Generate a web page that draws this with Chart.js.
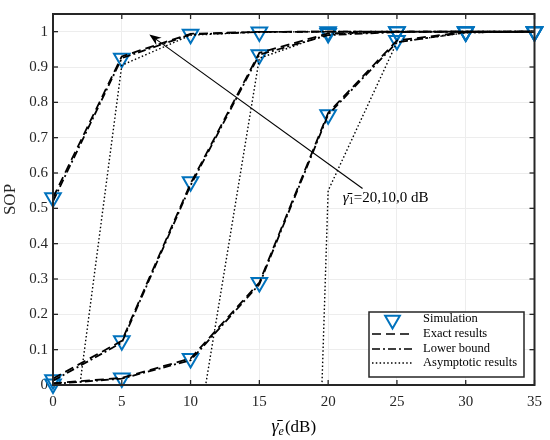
<!DOCTYPE html>
<html>
<head>
<meta charset="utf-8">
<script src="https://cdn.jsdelivr.net/npm/chart.js@4.4.1/dist/chart.umd.min.js"></script>
<style>
  html, body { margin: 0; padding: 0; background: #fff; }
  #wrap { width: 550px; height: 440px; }
</style>
</head>
<body>
<div id="wrap"><canvas id="sopChart" width="550" height="440"></canvas></div>
<script>
// x axis: average eavesdropper SNR (dB)
const snrDb = [0, 5, 10, 15, 20, 25, 30, 35];
const xTicks = [0, 5, 10, 15, 20, 25, 30, 35];
const yTicks = [0, 0.1, 0.2, 0.3, 0.4, 0.5, 0.6, 0.7, 0.8, 0.9, 1];

// gamma1 = 20 dB
const simG20   = [0.53, 0.925, 0.993, 0.999, 1, 1, 1, 1];
const exactG20 = [0.53, 0.93, 0.994, 0.9995, 1, 1, 1, 1];
const lowerG20 = [0.52, 0.925, 0.992, 0.999, 1, 1, 1, 1];
const asymG20  = [-0.58, 0.905, 0.99, 0.999, 1, 1, 1, 1];
// gamma1 = 10 dB
const simG10   = [0.015, 0.125, 0.575, 0.935, 0.995, 1, 1, 1];
const exactG10 = [0.018, 0.125, 0.57, 0.94, 0.995, 1, 1, 1];
const lowerG10 = [0.012, 0.12, 0.565, 0.935, 0.99, 0.999, 1, 1];
const asymG10  = [null, null, -0.26, 0.925, 0.993, 0.999, 1, 1];
// gamma1 = 0 dB
const simG0    = [0.003, 0.02, 0.075, 0.29, 0.765, 0.975, 0.999, 1];
const exactG0  = [0.005, 0.02, 0.075, 0.29, 0.77, 0.975, 0.999, 1];
const lowerG0  = [0.003, 0.018, 0.07, 0.285, 0.765, 0.97, 0.998, 1];
const asymG0   = [null, null, null, -5.56, 0.55, 0.97, 0.997, 1];

const legendLabels = ['Simulation', 'Exact results', 'Lower bound', 'Asymptotic results'];

const SERIF = "'Liberation Serif', 'DejaVu Serif', serif";
const BLUE = '#0072BD';
const INK = '#262626';
const DASH = [9, 5];
const DASHDOT = [8, 3, 2, 3];
const DOT = [1.5, 2.3];

function pts(vals) {
    return snrDb.map((x, i) => ({ x: x, y: vals[i] }));
}

function simSet(vals) {
    return {
        data: pts(vals), showLine: false, order: 1, clip: false,
        pointStyle: 'triangle', rotation: 180, pointRadius: 9, pointHoverRadius: 9,
        pointBorderColor: BLUE, pointBackgroundColor: 'rgba(0,0,0,0)', pointBorderWidth: 2
    };
}

function lineSet(vals, dash, width) {
    return {
        data: pts(vals), borderColor: '#000', borderWidth: width, borderDash: dash,
        pointRadius: 0, tension: 0, fill: false, spanGaps: false, order: 0
    };
}

const datasets = [
    lineSet(exactG20, DASH, 1.8), lineSet(exactG10, DASH, 1.8), lineSet(exactG0, DASH, 1.8),
    lineSet(lowerG20, DASHDOT, 1.8), lineSet(lowerG10, DASHDOT, 1.8), lineSet(lowerG0, DASHDOT, 1.8),
    lineSet(asymG20, DOT, 1.4), lineSet(asymG10, DOT, 1.4), lineSet(asymG0, DOT, 1.4),
    simSet(simG20), simSet(simG10), simSet(simG0)
];

// ticks inside the box, frame, arrow note, legend, x title
const decorPlugin = {
    id: 'decor',
    afterDatasetsDraw(chart) {
        const ctx = chart.ctx;
        const a = chart.chartArea;
        const xs = chart.scales.x, ys = chart.scales.y;

        function seg(x1, y1, x2, y2) {
            ctx.beginPath(); ctx.moveTo(x1, y1); ctx.lineTo(x2, y2); ctx.stroke();
        }

        ctx.save();
        ctx.strokeStyle = INK;
        ctx.lineWidth = 1.3;
        xTicks.forEach(v => {
            const px = xs.getPixelForValue(v);
            seg(px, a.bottom, px, a.bottom - 5);
            seg(px, a.top, px, a.top + 5);
        });
        yTicks.forEach(v => {
            const py = ys.getPixelForValue(v);
            seg(a.left, py, a.left + 5, py);
            seg(a.right, py, a.right - 5, py);
        });
        ctx.lineWidth = 2;
        ctx.strokeRect(a.left, a.top, a.right - a.left, a.bottom - a.top);

        // arrow pointing across the curves
        const tx = xs.getPixelForValue(22.5), ty = ys.getPixelForValue(0.556);
        const hx = xs.getPixelForValue(7.0), hy = ys.getPixelForValue(0.992);
        const ang = Math.atan2(hy - ty, hx - tx);
        ctx.strokeStyle = '#000';
        ctx.lineWidth = 1.1;
        seg(tx, ty, hx - 8 * Math.cos(ang), hy - 8 * Math.sin(ang));
        ctx.fillStyle = '#000';
        ctx.beginPath();
        ctx.moveTo(hx, hy);
        ctx.lineTo(hx - 12 * Math.cos(ang) + 4.5 * Math.sin(ang), hy - 12 * Math.sin(ang) - 4.5 * Math.cos(ang));
        ctx.lineTo(hx - 8 * Math.cos(ang), hy - 8 * Math.sin(ang));
        ctx.lineTo(hx - 12 * Math.cos(ang) - 4.5 * Math.sin(ang), hy - 12 * Math.sin(ang) + 4.5 * Math.cos(ang));
        ctx.closePath();
        ctx.fill();

        // note text
        let nx = xs.getPixelForValue(21.07);
        const ny = ys.getPixelForValue(0.517);
        ctx.textBaseline = 'alphabetic';
        ctx.textAlign = 'left';
        ctx.font = 'italic 15px ' + SERIF;
        ctx.fillText('\u03B3\u0304', nx, ny);
        nx += ctx.measureText('\u03B3').width;
        ctx.font = '10px ' + SERIF;
        ctx.fillText('1', nx, ny + 2);
        nx += ctx.measureText('1').width;
        ctx.font = '15px ' + SERIF;
        ctx.fillText('=20,10,0 dB', nx, ny);

        // legend box
        const lx = 369, ly = 312, lw = 155, lh = 65;
        ctx.fillStyle = '#fff';
        ctx.fillRect(lx, ly, lw, lh);
        ctx.strokeStyle = INK;
        ctx.lineWidth = 1.5;
        ctx.strokeRect(lx, ly, lw, lh);
        const rows = [319, 334, 349, 363];
        const dashes = [null, DASH, DASHDOT, DOT];
        ctx.font = '12.5px ' + SERIF;
        ctx.textBaseline = 'middle';
        rows.forEach((ry, i) => {
            if (i === 0) {
                ctx.strokeStyle = BLUE;
                ctx.lineWidth = 2;
                ctx.beginPath();
                const r = 8.5;
                for (let k = 0; k < 3; k++) {
                    const t = Math.PI + k * 2 * Math.PI / 3;
                    const px = 392.5 + Math.sin(t) * r, py = ry + 1 - Math.cos(t) * r;
                    if (k === 0) ctx.moveTo(px, py); else ctx.lineTo(px, py);
                }
                ctx.closePath();
                ctx.stroke();
            } else {
                ctx.strokeStyle = '#000';
                ctx.lineWidth = i === 3 ? 1.3 : 1.7;
                ctx.setLineDash(dashes[i]);
                seg(372, ry, 413, ry);
                ctx.setLineDash([]);
            }
            ctx.fillStyle = '#000';
            ctx.fillText(legendLabels[i], 423, ry);
        });

        // x axis title
        const cx = (a.left + a.right) / 2, by = 432;
        ctx.textBaseline = 'alphabetic';
        ctx.font = 'italic 18px ' + SERIF;
        const wG = ctx.measureText('\u03B3').width;
        ctx.font = 'italic 12px ' + SERIF;
        const wE = ctx.measureText('e').width;
        ctx.font = '17px ' + SERIF;
        const wD = ctx.measureText('(dB)').width;
        let sx = cx - (wG + wE + wD + 1) / 2;
        ctx.font = 'italic 18px ' + SERIF;
        ctx.fillText('\u03B3\u0304', sx, by);
        sx += wG;
        ctx.font = 'italic 12px ' + SERIF;
        ctx.fillText('e', sx, by + 3);
        sx += wE + 1;
        ctx.font = '17px ' + SERIF;
        ctx.fillText('(dB)', sx, by);
        ctx.restore();
    }
};

new Chart(document.getElementById('sopChart'), {
    type: 'line',
    data: { datasets: datasets },
    options: {
        responsive: false,
        animation: false,
        devicePixelRatio: 1,
        layout: { padding: { top: 6, right: 13, left: 0, bottom: 0 } },
        plugins: { legend: { display: false }, tooltip: { enabled: false } },
        scales: {
            x: {
                type: 'linear', min: 0, max: 35,
                afterBuildTicks: s => { s.ticks = xTicks.map(v => ({ value: v })); },
                afterFit: s => { s.height = 55; },
                grid: { color: '#ededed', lineWidth: 1, drawTicks: false },
                border: { display: false },
                ticks: { color: '#262626', padding: 8, maxRotation: 0,
                         font: { family: SERIF, size: 15 } }
            },
            y: {
                type: 'linear', min: 0, max: 1.05,
                afterBuildTicks: s => { s.ticks = yTicks.map(v => ({ value: v })); },
                afterFit: s => { s.width = 53; },
                grid: { color: '#ededed', lineWidth: 1, drawTicks: false },
                border: { display: false },
                ticks: { color: '#262626', padding: 5,
                         font: { family: SERIF, size: 15 },
                         callback: v => String(+v.toFixed(2)) },
                title: { display: true, text: 'SOP', color: '#262626', padding: 0,
                         font: { family: SERIF, size: 17 } }
            }
        }
    },
    plugins: [decorPlugin]
});
</script>
</body>
</html>
